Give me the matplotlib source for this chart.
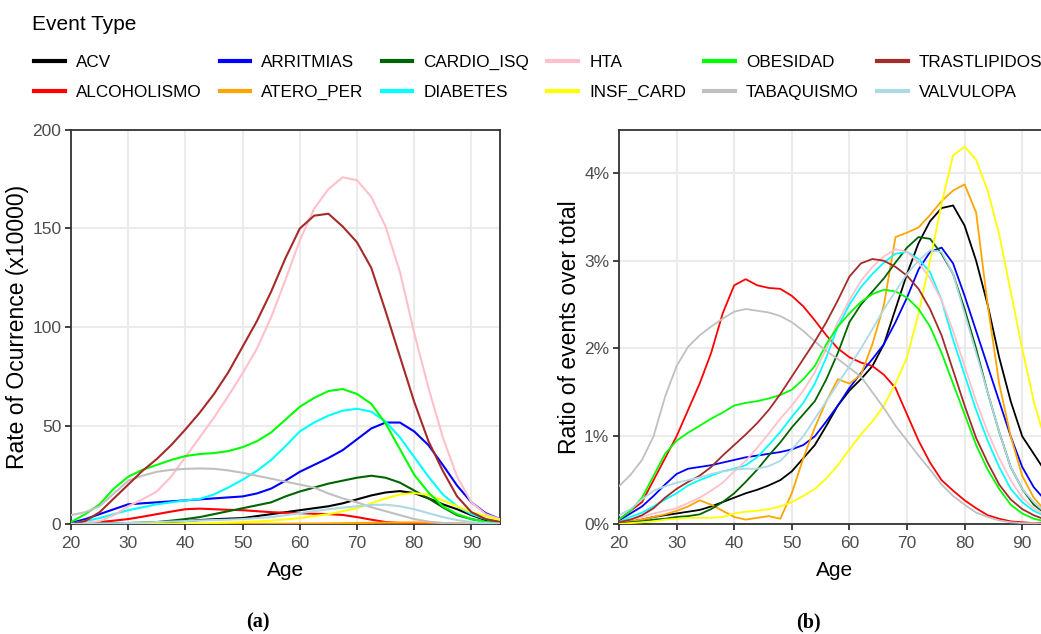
import matplotlib
matplotlib.use("Agg")
import matplotlib.pyplot as plt
from matplotlib.lines import Line2D
from matplotlib.ticker import FuncFormatter, FixedLocator

# ---------------- data ----------------
event_types = ["ACV", "ALCOHOLISMO", "ARRITMIAS", "ATERO_PER", "CARDIO_ISQ", "DIABETES",
               "HTA", "INSF_CARD", "OBESIDAD", "TABAQUISMO", "TRASTLIPIDOS", "VALVULOPA"]
colors = ["black", "red", "blue", "orange", "darkgreen", "cyan",
          "pink", "yellow", "lime", "silver", "brown", "lightblue"]

# panel (a): rate of occurrence (x10000)
ages_a = [20, 22.5, 25, 27.5, 30, 32.5, 35, 37.5, 40, 42.5, 45, 47.5, 50, 52.5, 55, 57.5,
          60, 62.5, 65, 67.5, 70, 72.5, 75, 77.5, 80, 82.5, 85, 87.5, 90, 92.5, 95]
rate_acv = [0, 0, 0.1, 0.1, 0.2, 0.4, 0.7, 1.1, 1.5, 2, 2.4, 2.7, 3, 4, 5, 6, 7, 8, 9, 10.5,
            12.5, 14.5, 16, 16.7, 15.7, 13, 10, 7.5, 4.5, 2, 1]
rate_alcoholismo = [0, 0.5, 1, 1.7, 2.5, 3.7, 5, 6.3, 7.5, 7.8, 7.5, 7.2, 7, 6.5, 6, 5.7, 5.5,
                    5.2, 5, 4.6, 3.5, 2.2, 1, 0.5, 0.3, 0.1, 0, 0, 0, 0, 0]
rate_arritmias = [0.5, 2.5, 5, 7.5, 10, 10.5, 11, 11.5, 12, 12.5, 13, 13.5, 14, 15.5, 18, 22,
                  26.5, 30, 33.5, 37.5, 43, 48.5, 51.5, 51.5, 47, 40, 30, 19.5, 11, 5.5, 2.5]
rate_atero_per = [0, 0, 0, 0, 0, 0, 0, 0, 0, 0, 0, 0, 0, 0.1, 0.1, 0.15, 0.2, 0.25, 0.3, 0.4,
                  0.5, 0.6, 0.7, 0.75, 0.8, 0.7, 0.5, 0.35, 0.2, 0.15, 0.1]
rate_cardio_isq = [0, 0.1, 0.2, 0.3, 0.5, 0.7, 1, 1.7, 2.5, 3.5, 5, 6.5, 8, 9.5, 11, 14, 16.5,
                   18.5, 20.5, 22, 23.5, 24.5, 23.5, 21, 17, 13, 8.5, 4.5, 2.5, 1, 0.5]
rate_diabetes = [0, 1.5, 3, 5, 7, 8.5, 10, 11, 12, 12.7, 15, 18.5, 22.5, 27, 32.5, 39.5, 47,
                 51.5, 55, 57.5, 58.5, 57, 52, 44, 34, 24, 15, 9, 5, 2.5, 1]
rate_hta = [0, 0.5, 1.5, 4.5, 9, 12.5, 16.5, 24, 34, 44, 54, 65, 76.5, 89, 105, 124, 144, 160,
            170, 176, 174.5, 166, 151, 128, 97, 69, 44, 24, 11, 5, 2.5]
rate_insf_card = [0, 0, 0, 0, 0, 0, 0.1, 0.1, 0.2, 0.3, 0.5, 0.7, 1, 1.3, 1.7, 2.3, 3, 4, 5,
                  6.5, 8, 10.5, 13, 15, 15.7, 14.8, 12, 9, 6, 4, 2]
rate_obesidad = [1, 5, 10, 18, 24, 27.5, 30, 32.5, 34.5, 35.5, 36, 37, 39, 42, 46.5, 53, 59.5,
                 64, 67.5, 68.5, 66, 61, 51, 38, 25, 16, 9, 5, 2.5, 1, 0.5]
rate_tabaquismo = [4.5, 6, 9, 15.5, 22, 24.5, 26.5, 27.5, 28, 28.2, 28, 27.2, 26, 24.5, 23,
                   21.5, 20, 18.5, 15.5, 13, 11, 8.5, 6.5, 4.5, 2.5, 1.2, 0.5, 0.2, 0, 0, 0]
rate_trastlipidos = [0, 1.5, 6, 13, 20, 27, 33, 40, 48, 56.5, 66, 77, 90, 103, 118, 135, 150,
                     156.5, 157.5, 151, 143, 130, 108, 85, 62, 42, 27, 14, 6, 2.5, 1]
rate_valvulopa = [0, 0.1, 0.2, 0.3, 0.5, 0.7, 1, 1.2, 1.5, 1.8, 2, 2.2, 2.5, 3, 3.5, 4.5, 5.5,
                  6.5, 7.5, 8.3, 9, 9.7, 9.8, 9, 7.5, 5.5, 3.5, 2, 1, 0.5, 0.2]

# panel (b): ratio of events over total (%)
ages_b = [20, 22, 24, 26, 28, 30, 32, 34, 36, 38, 40, 42, 44, 46, 48, 50, 52, 54, 56, 58,
          60, 62, 64, 66, 68, 70, 72, 74, 76, 78, 80, 82, 84, 86, 88, 90, 92, 94, 95]
ratio_acv = [0.01, 0.03, 0.05, 0.08, 0.1, 0.12, 0.14, 0.16, 0.2, 0.25, 0.3, 0.35, 0.39, 0.44,
             0.5, 0.6, 0.75, 0.9, 1.12, 1.35, 1.52, 1.65, 1.8, 2.05, 2.45, 2.85, 3.2, 3.45,
             3.6, 3.63, 3.4, 3.0, 2.5, 1.9, 1.4, 1.0, 0.8, 0.6, 0.45]
ratio_alcoholismo = [0.05, 0.15, 0.25, 0.5, 0.75, 1.0, 1.3, 1.6, 1.95, 2.4, 2.72, 2.79, 2.72,
                     2.69, 2.68, 2.6, 2.48, 2.32, 2.15, 2.0, 1.9, 1.84, 1.8, 1.7, 1.55, 1.25,
                     0.95, 0.7, 0.5, 0.38, 0.27, 0.18, 0.1, 0.06, 0.03, 0.02, 0.01, 0.01, 0.01]
ratio_arritmias = [0.04, 0.12, 0.2, 0.32, 0.45, 0.57, 0.63, 0.65, 0.67, 0.7, 0.73, 0.76, 0.78,
                   0.8, 0.82, 0.85, 0.9, 1.0, 1.17, 1.35, 1.55, 1.72, 1.88, 2.05, 2.3, 2.58,
                   2.9, 3.1, 3.15, 2.97, 2.6, 2.2, 1.8, 1.4, 1.0, 0.65, 0.42, 0.27, 0.2]
ratio_atero_per = [0.01, 0.03, 0.05, 0.08, 0.11, 0.15, 0.2, 0.27, 0.22, 0.15, 0.08, 0.05, 0.07,
                   0.09, 0.06, 0.35, 0.75, 1.1, 1.4, 1.65, 1.6, 1.7, 2.05, 2.5, 3.27, 3.32,
                   3.38, 3.52, 3.68, 3.8, 3.87, 3.55, 2.5, 1.6, 1.0, 0.55, 0.3, 0.15, 0.1]
ratio_cardio_isq = [0.01, 0.02, 0.03, 0.05, 0.06, 0.08, 0.09, 0.11, 0.17, 0.25, 0.35, 0.48,
                    0.62, 0.78, 0.93, 1.1, 1.25, 1.4, 1.65, 1.95, 2.3, 2.5, 2.65, 2.8, 2.98,
                    3.15, 3.27, 3.25, 3.08, 2.85, 2.45, 2.0, 1.5, 1.05, 0.65, 0.4, 0.22, 0.12,
                    0.08]
ratio_diabetes = [0.02, 0.08, 0.13, 0.2, 0.28, 0.35, 0.44, 0.5, 0.55, 0.6, 0.63, 0.67, 0.76,
                  0.9, 1.05, 1.22, 1.38, 1.6, 1.9, 2.25, 2.5, 2.7, 2.85, 2.98, 3.08, 3.1, 3.02,
                  2.87, 2.55, 2.1, 1.7, 1.3, 0.95, 0.65, 0.4, 0.25, 0.15, 0.09, 0.07]
ratio_hta = [0.02, 0.05, 0.08, 0.12, 0.15, 0.18, 0.24, 0.3, 0.38, 0.47, 0.6, 0.72, 0.87, 1.03,
             1.2, 1.35, 1.52, 1.73, 2.0, 2.3, 2.55, 2.77, 2.93, 3.05, 3.13, 3.1, 2.98, 2.8,
             2.55, 2.2, 1.8, 1.4, 1.05, 0.75, 0.5, 0.3, 0.18, 0.1, 0.08]
ratio_insf_card = [0.0, 0.01, 0.02, 0.03, 0.05, 0.06, 0.07, 0.07, 0.07, 0.08, 0.12, 0.14, 0.15,
                   0.17, 0.2, 0.25, 0.32, 0.4, 0.52, 0.67, 0.85, 1.02, 1.17, 1.35, 1.6, 1.9,
                   2.4, 3.0, 3.65, 4.2, 4.3, 4.15, 3.8, 3.3, 2.65, 2.0, 1.4, 0.95, 0.8]
ratio_obesidad = [0.05, 0.15, 0.3, 0.55, 0.8, 0.95, 1.04, 1.12, 1.2, 1.27, 1.35, 1.38, 1.4,
                  1.43, 1.47, 1.53, 1.65, 1.8, 2.05, 2.25, 2.4, 2.53, 2.62, 2.67, 2.65, 2.58,
                  2.45, 2.25, 1.95, 1.6, 1.25, 0.9, 0.62, 0.4, 0.22, 0.12, 0.06, 0.03, 0.02]
ratio_tabaquismo = [0.43, 0.56, 0.73, 1.0, 1.45, 1.8, 2.02, 2.15, 2.25, 2.34, 2.42, 2.45, 2.43,
                    2.41, 2.37, 2.3, 2.2, 2.08, 1.97, 1.88, 1.78, 1.68, 1.5, 1.32, 1.12, 0.95,
                    0.78, 0.62, 0.45, 0.32, 0.22, 0.13, 0.08, 0.04, 0.02, 0.01, 0.01, 0.0, 0.0]
ratio_trastlipidos = [0.02, 0.05, 0.1, 0.18, 0.3, 0.4, 0.48, 0.55, 0.65, 0.78, 0.9, 1.02, 1.15,
                      1.3, 1.48, 1.68, 1.88, 2.08, 2.3, 2.55, 2.82, 2.97, 3.02, 3.0, 2.93, 2.83,
                      2.68, 2.45, 2.15, 1.75, 1.35, 0.98, 0.7, 0.45, 0.28, 0.17, 0.1, 0.05, 0.03]
ratio_valvulopa = [0.1, 0.17, 0.28, 0.38, 0.43, 0.47, 0.5, 0.53, 0.57, 0.6, 0.62, 0.63, 0.63,
                   0.66, 0.72, 0.85, 1.0, 1.2, 1.4, 1.6, 1.8, 2.0, 2.22, 2.45, 2.65, 2.85, 3.0,
                   3.12, 3.1, 2.85, 2.4, 1.95, 1.5, 1.05, 0.65, 0.4, 0.25, 0.13, 0.1]

rates = [rate_acv, rate_alcoholismo, rate_arritmias, rate_atero_per, rate_cardio_isq,
         rate_diabetes, rate_hta, rate_insf_card, rate_obesidad, rate_tabaquismo,
         rate_trastlipidos, rate_valvulopa]
ratios = [ratio_acv, ratio_alcoholismo, ratio_arritmias, ratio_atero_per, ratio_cardio_isq,
          ratio_diabetes, ratio_hta, ratio_insf_card, ratio_obesidad, ratio_tabaquismo,
          ratio_trastlipidos, ratio_valvulopa]

x_ticks = [20, 30, 40, 50, 60, 70, 80, 90]
y_ticks_a = [0, 50, 100, 150, 200]
y_ticks_b = [0, 1, 2, 3, 4]

# ---------------- style ----------------
plt.rcParams["font.family"] = ["Liberation Sans", "DejaVu Sans"]

W, H = 1041, 634
fig = plt.figure(figsize=(W / 100, H / 100), dpi=100)

def px_rect(x0, x1, ytop, ybot):
    return [x0 / W, 1 - ybot / H, (x1 - x0) / W, (ybot - ytop) / H]

ax_a = fig.add_axes(px_rect(71, 500, 130, 524))
ax_b = fig.add_axes(px_rect(619, 1051, 130, 524))

def style(ax, yticks, ylim, ylabel, fmt=None):
    ax.set_xlim(20, 95)
    ax.set_ylim(*ylim)
    ax.xaxis.set_major_locator(FixedLocator(x_ticks))
    ax.yaxis.set_major_locator(FixedLocator(yticks))
    if fmt:
        ax.yaxis.set_major_formatter(FuncFormatter(fmt))
    ax.grid(True, color="#EBEBEB", linewidth=1.5, zorder=0)
    ax.set_axisbelow(True)
    for s in ax.spines.values():
        s.set_color("#333333")
        s.set_linewidth(1.3)
    ax.tick_params(axis="both", length=4, width=1.3, color="#333333",
                   labelcolor="#4D4D4D", labelsize=12.5)
    ax.tick_params(axis="x", pad=4.5)
    ax.tick_params(axis="y", pad=3)
    ax.set_xlabel("Age", fontsize=15, color="black", labelpad=7)
    ax.set_ylabel(ylabel, fontsize=16.5, color="black", labelpad=2)

for name, col, vals in zip(event_types, colors, rates):
    ax_a.plot(ages_a, vals, color=col, linewidth=1.5, label=name, zorder=3)
for name, col, vals in zip(event_types, colors, ratios):
    ax_b.plot(ages_b, vals, color=col, linewidth=1.3, label=name, zorder=3)

style(ax_a, y_ticks_a, (0, 200), "Rate of Ocurrence (x10000)")
style(ax_b, y_ticks_b, (0, 4.49), "Ratio of events over total",
      fmt=lambda v, p: f"{v:.0f}%")

# legend
fig.text(32 / W, 1 - 25 / H, "Event Type", fontsize=15, va="center", ha="left")
handles = [Line2D([], [], color=c, linewidth=3) for c in colors]
fig.legend(handles, event_types, loc="upper left", bbox_to_anchor=(34 / W, 1 - 55 / H),
           ncol=6, frameon=False, fontsize=12.3, handlelength=1.8, handletextpad=0.65,
           columnspacing=1.05, labelspacing=0.87, borderpad=0, borderaxespad=0)

# panel labels
fig.text(258 / W, 1 - 622 / H, "(a)", fontsize=14.5, fontweight="bold",
         family=["Liberation Serif", "DejaVu Serif"], ha="center", va="center")
fig.text(808 / W, 1 - 622 / H, "(b)", fontsize=14.5, fontweight="bold",
         family=["Liberation Serif", "DejaVu Serif"], ha="center", va="center")

fig.savefig("out.png", dpi=100)
